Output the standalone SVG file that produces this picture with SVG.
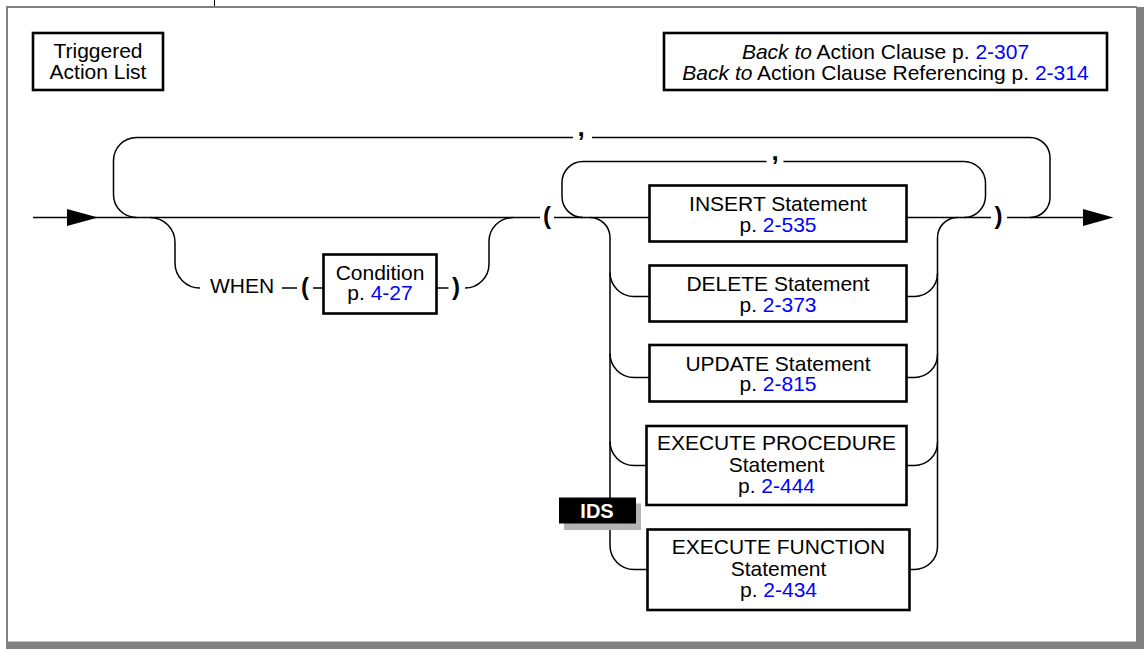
<svg xmlns="http://www.w3.org/2000/svg" width="1144" height="649" viewBox="0 0 1144 649">
  <style>
    .frame { fill: #808080; }
    .box { fill: #ffffff; stroke: #000000; stroke-width: 2.6; }
    .line { fill: none; stroke: #000000; stroke-width: 1.5; }
    .arrow { fill: #000000; stroke: none; }
    .t { font-family: "Liberation Sans", Arial, Helvetica, sans-serif; font-size: 21px; fill: #000000; }
    .c { text-anchor: middle; }
    .link { fill: #0000ff; }
    .it { font-style: italic; }
    .punct { font-family: "Liberation Sans", Arial, Helvetica, sans-serif; font-weight: bold; fill: #000000; text-anchor: middle; }
    .badge { font-family: "Liberation Sans", Arial, Helvetica, sans-serif; font-weight: bold; font-size: 20px; fill: #ffffff; text-anchor: middle; }
  </style>

  <!-- page frame -->
  <g id="frame">
    <rect class="frame" x="6" y="6" width="1131" height="2"/>
    <rect class="frame" x="6" y="6" width="2" height="636"/>
    <rect class="frame" x="1136" y="7" width="8" height="642"/>
    <rect class="frame" x="6" y="641.5" width="1138" height="7.5"/>
    <line x1="214.5" y1="0" x2="214.5" y2="6" stroke="#000000" stroke-width="1"/>
  </g>

  <!-- connectors -->
  <g id="connectors">
    <!-- entry -->
    <line class="line" x1="33" y1="217.5" x2="540" y2="217.5"/>
    <polygon class="arrow" points="67,209 98,217.5 67,226"/>
    <line class="line" x1="554" y1="217.5" x2="649.5" y2="217.5"/>
    <line class="line" x1="906.5" y1="217.5" x2="991" y2="217.5"/>
    <line class="line" x1="1007" y1="217.5" x2="1084" y2="217.5"/>
    <polygon class="arrow" points="1083,209 1113.5,217.5 1083,226"/>

    <!-- outer repeat loop -->
    <path class="line" d="M136.5,217.5 A23,23 0 0 1 113.5,194.5 V160.5 A23,23 0 0 1 136.5,137.5 H573"/>
    <path class="line" d="M592,137.5 H1030 A20,20 0 0 1 1050,157.5 V197.5 A20,20 0 0 1 1030,217.5"/>

    <!-- inner repeat loop -->
    <path class="line" d="M583,217.5 A21,21 0 0 1 562,196.5 V182.5 A21,21 0 0 1 583,161.5 H766.5"/>
    <path class="line" d="M783.5,161.5 H964 A21.5,21.5 0 0 1 985.5,183 V196 A21.5,21.5 0 0 1 964,217.5"/>

    <!-- WHEN branch -->
    <path class="line" d="M150,217.5 A25,25 0 0 1 175,242.5 V263 A25,25 0 0 0 200,288"/>
    <line class="line" x1="282" y1="288" x2="297" y2="288"/>
    <line class="line" x1="313" y1="288" x2="323.5" y2="288"/>
    <line class="line" x1="436.5" y1="288" x2="448.5" y2="288"/>
    <path class="line" d="M465,288 A24,24 0 0 0 489,264 V241.5 A24,24 0 0 1 513,217.5"/>

    <!-- left rail of the statement choice -->
    <path class="line" d="M590,217.5 A20,20 0 0 1 610,237.5 V545.5 A24,24 0 0 0 634,569.5 H647.5"/>
    <path class="line" d="M610,272.5 A24,24 0 0 0 634,296.5 H649.5"/>
    <path class="line" d="M610,353.5 A24,24 0 0 0 634,377.5 H649.5"/>
    <path class="line" d="M610,441.5 A24,24 0 0 0 634,465.5 H646.5"/>

    <!-- right rail of the statement choice -->
    <path class="line" d="M957.5,217.5 A20,20 0 0 0 937.5,237.5 V546.5 A23,23 0 0 1 914.5,569.5 H909.5"/>
    <path class="line" d="M906.5,296.5 H914.5 A23,23 0 0 0 937.5,273.5"/>
    <path class="line" d="M906.5,377.5 H914.5 A23,23 0 0 0 937.5,354.5"/>
    <path class="line" d="M906.5,465.5 H914.5 A23,23 0 0 0 937.5,442.5"/>

    <!-- separators and parentheses -->
    <text class="punct" x="581" y="136" font-size="26">,</text>
    <text class="punct" x="775" y="160" font-size="26">,</text>
    <text class="punct" x="547" y="224" font-size="24">(</text>
    <text class="punct" x="998.5" y="224" font-size="24">)</text>
    <text class="punct" x="305" y="295" font-size="24">(</text>
    <text class="punct" x="456" y="295" font-size="24">)</text>
    <text class="t" x="210" y="293">WHEN</text>
  </g>

  <!-- nodes -->
  <g id="triggered-action-list">
    <rect class="box" x="33" y="33" width="130" height="57"/>
    <text class="t c" x="98" y="58">Triggered</text>
    <text class="t c" x="98" y="79">Action List</text>
  </g>

  <g id="back-to">
    <rect class="box" x="664" y="33" width="443" height="57"/>
    <text class="t c" x="885.5" y="58.5"><tspan class="it">Back to</tspan> Action Clause p. <tspan class="link">2-307</tspan></text>
    <text class="t c" x="885.5" y="80"><tspan class="it">Back to</tspan> Action Clause Referencing p. <tspan class="link">2-314</tspan></text>
  </g>

  <g id="condition">
    <rect class="box" x="323.5" y="254.5" width="113" height="59"/>
    <text class="t c" x="380" y="279.5">Condition</text>
    <text class="t c" x="380" y="300">p. <tspan class="link">4-27</tspan></text>
  </g>

  <g id="insert-statement">
    <rect class="box" x="649.5" y="185.5" width="257" height="56"/>
    <text class="t c" x="778" y="211">INSERT Statement</text>
    <text class="t c" x="778" y="231.5">p. <tspan class="link">2-535</tspan></text>
  </g>

  <g id="delete-statement">
    <rect class="box" x="649.5" y="265.5" width="257" height="56"/>
    <text class="t c" x="778" y="291">DELETE Statement</text>
    <text class="t c" x="778" y="311.5">p. <tspan class="link">2-373</tspan></text>
  </g>

  <g id="update-statement">
    <rect class="box" x="649.5" y="345" width="257" height="56.5"/>
    <text class="t c" x="778" y="370.5">UPDATE Statement</text>
    <text class="t c" x="778" y="391">p. <tspan class="link">2-815</tspan></text>
  </g>

  <g id="execute-procedure-statement">
    <rect class="box" x="646.5" y="426" width="260" height="79"/>
    <text class="t c" x="776.5" y="450">EXECUTE PROCEDURE</text>
    <text class="t c" x="776.5" y="471.5">Statement</text>
    <text class="t c" x="776.5" y="492.5">p. <tspan class="link">2-444</tspan></text>
  </g>

  <g id="ids-badge">
    <rect x="564" y="503.5" width="77" height="26.5" fill="#b3b3b3"/>
    <rect x="559" y="497.5" width="77" height="26" fill="#000000"/>
    <text class="badge" x="597" y="517.5">IDS</text>
  </g>

  <g id="execute-function-statement">
    <rect class="box" x="647.5" y="529.5" width="262" height="80.5"/>
    <text class="t c" x="778.5" y="554">EXECUTE FUNCTION</text>
    <text class="t c" x="778.5" y="575.5">Statement</text>
    <text class="t c" x="778.5" y="596.5">p. <tspan class="link">2-434</tspan></text>
  </g>
</svg>
